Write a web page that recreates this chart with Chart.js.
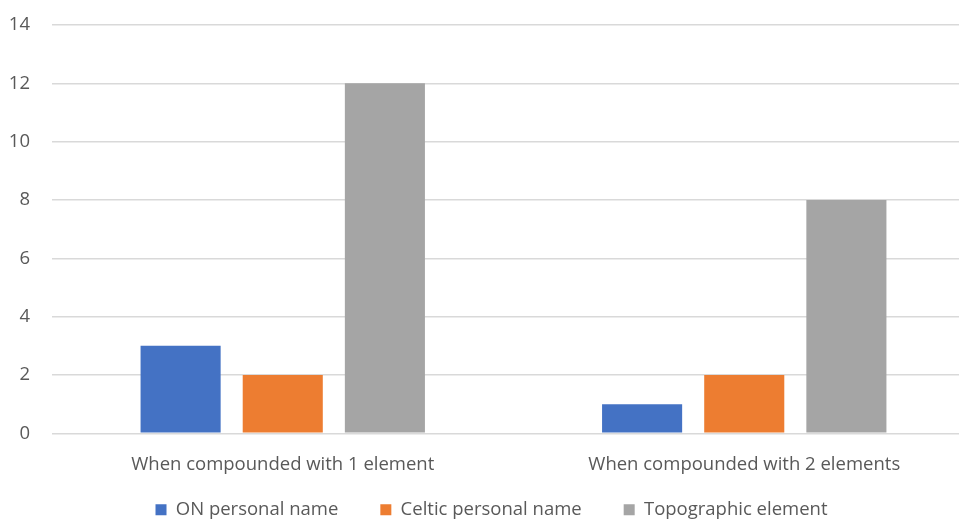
<!DOCTYPE html>
<html>
<head>
<meta charset="utf-8">
<script src="https://cdn.jsdelivr.net/npm/chart.js@4"></script>
<style>
  html, body { margin: 0; padding: 0; background: #fff; overflow: hidden; }
  #wrap { width: 975px; height: 519px; }
</style>
</head>
<body>
<div id="wrap"><canvas id="compoundChart"></canvas></div>
<script>
// chart data
var categories = ['When compounded with 1 element', 'When compounded with 2 elements'];
var onPersonal = [3, 1];
var celticPersonal = [2, 2];
var topographic = [12, 8];
var yTicks = [0, 2, 4, 6, 8, 10, 12, 14];

var fontFamily = '"Open Sans", "Noto Sans", sans-serif';

// default legend items, with some trailing space so the items sit further apart
function legendLabels(chart) {
  var items = Chart.defaults.plugins.legend.labels.generateLabels(chart);
  items.forEach(function(item, i) {
    if (i < items.length - 1) item.text += '\u2003\u2003';
  });
  return items;
}

function createChart() {
  var ctx = document.getElementById('compoundChart').getContext('2d');
  new Chart(ctx, {
    type: 'bar',
    data: {
      labels: categories,
      datasets: [
        { label: 'ON personal name', data: onPersonal, backgroundColor: '#4472c4' },
        { label: 'Celtic personal name', data: celticPersonal, backgroundColor: '#ed7d31' },
        { label: 'Topographic element', data: topographic, backgroundColor: '#a5a5a5' }
      ]
    },
    options: {
      responsive: true,
      maintainAspectRatio: false,
      animation: false,
      layout: { padding: { top: 25, left: 8, right: 0, bottom: -10 } },
      datasets: { bar: { categoryPercentage: 0.664, barPercentage: 0.784 } },
      plugins: {
        tooltip: { enabled: false },
        legend: {
          position: 'bottom',
          labels: {
            boxWidth: 11, boxHeight: 11, padding: 5,
            color: '#595959',
            font: { family: fontFamily, size: 18.5 },
            generateLabels: legendLabels
          }
        }
      },
      scales: {
        x: {
          grid: { display: false, drawTicks: false },
          border: { color: '#d9d9d9' },
          ticks: { color: '#595959', padding: 20, font: { family: fontFamily, size: 18.5 } }
        },
        y: {
          min: 0, max: 14,
          afterBuildTicks: function(axis) { axis.ticks = yTicks.map(function(v) { return { value: v }; }); },
          afterFit: function(axis) { axis.width = 44; axis.paddingTop = 0; },
          grid: { color: '#d9d9d9', lineWidth: 1.5, drawTicks: false },
          border: { display: false },
          ticks: { color: '#595959', padding: 22, font: { family: fontFamily, size: 18.5 } }
        }
      }
    }
  });
}

document.addEventListener('DOMContentLoaded', createChart);
</script>
</body>
</html>
